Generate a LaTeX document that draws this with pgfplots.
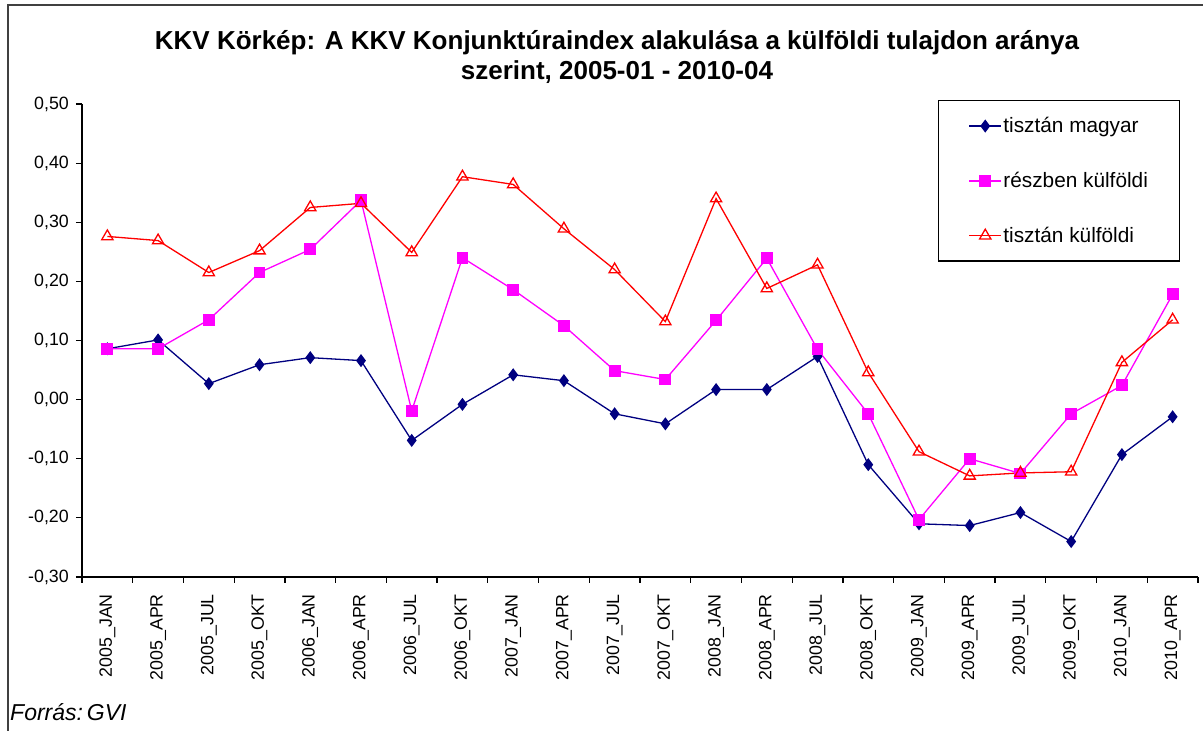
\documentclass[border=0pt]{standalone}
\usepackage{fontspec}
\setmainfont{Liberation Sans}
\usepackage{pgfplots}
\usepackage{pgfplotstable}
\pgfplotsset{compat=1.18}
\definecolor{navy}{RGB}{0,0,128}
\definecolor{mag}{RGB}{255,0,255}
\definecolor{red1}{RGB}{255,0,0}
\pgfplotstableread{
x m r k
0 0.086 0.086 0.276
1 0.101 0.086 0.269
2 0.027 0.135 0.215
3 0.059 0.215 0.252
4 0.071 0.254 0.325
5 0.066 0.337 0.332
6 -0.069 -0.019 0.249
7 -0.008 0.240 0.377
8 0.042 0.186 0.364
9 0.032 0.125 0.289
10 -0.024 0.049 0.220
11 -0.041 0.034 0.132
12 0.017 0.134 0.340
13 0.017 0.239 0.188
14 0.073 0.085 0.228
15 -0.110 -0.024 0.046
16 -0.210 -0.203 -0.088
17 -0.213 -0.100 -0.129
18 -0.191 -0.125 -0.124
19 -0.240 -0.024 -0.122
20 -0.093 0.024 0.063
21 -0.029 0.178 0.135
}\data
\begin{document}
\begin{tikzpicture}
\path[use as bounding box] (0pt,0pt) rectangle (1203pt,731pt);
\draw[black!75, line width=1.3pt] (8pt,0pt) -- (8pt,726pt) -- (1203pt,726pt);
\begin{axis}[at={(82pt,154pt)}, anchor=south west, scale only axis,
  width=1116pt, height=473pt,
  xmin=-0.5, xmax=21.5, ymin=-0.3, ymax=0.5,
  axis lines*=left, axis line style={line width=1.3pt},
  tick style={line width=1.2pt, black},
  xtick align=outside, ytick align=outside, major tick length=6pt,
  xtick={-0.5,0.5,...,21.5}, xticklabels={},
  extra x ticks={0,1,...,21},
  extra x tick labels={2005\_JAN,2005\_APR,2005\_JUL,2005\_OKT,2006\_JAN,2006\_APR,2006\_JUL,2006\_OKT,2007\_JAN,2007\_APR,2007\_JUL,2007\_OKT,2008\_JAN,2008\_APR,2008\_JUL,2008\_OKT,2009\_JAN,2009\_APR,2009\_JUL,2009\_OKT,2010\_JAN,2010\_APR},
  extra x tick style={major tick length=0pt,
    xticklabel style={rotate=90, anchor=east, xshift=-17pt, inner sep=0pt}},
  ytick={-0.3,-0.2,-0.1,0,0.1,0.2,0.3,0.4,0.5},
  yticklabels={{-0,30},{-0,20},{-0,10},{0,00},{0,10},{0,20},{0,30},{0,40},{0,50}},
  yticklabel style={inner sep=0pt, xshift=-7pt},
  ticklabel style={font=\fontsize{17.8}{20}\selectfont},
  legend style={at={(axis description cs:0.767,1.0085)}, anchor=north west,
    draw=black, line width=1.3pt, inner xsep=30pt, inner ysep=15pt,
    font=\fontsize{20.8}{24}\selectfont, row sep=34pt,
    legend cell align=left, nodes={inner xsep=1.5pt, inner ysep=2pt}},
  legend image code/.code={\draw[mark repeat=2,mark phase=2,#1] plot coordinates {(0pt,0pt)(16pt,0pt)(32pt,0pt)};},
]
\addplot[navy, line width=1.3pt, mark=diamond*, mark size=5.5pt, mark options={fill=navy}] table[x=x,y=m]{\data};
\addlegendentry{tisztán magyar}
\addplot[mag, line width=1.3pt, mark=square*, mark size=5.3pt, mark options={fill=mag}] table[x=x,y=r]{\data};
\addlegendentry{részben külföldi}
\addplot[red1, line width=1.3pt, mark=triangle, mark size=6.5pt, mark options={fill=white, line width=1.3pt}] table[x=x,y=k]{\data};
\addlegendentry{tisztán külföldi}
\end{axis}
\node[align=center, font=\fontsize{26}{30}\selectfont\bfseries] at (617pt,674pt) {KKV Körkép: A KKV Konjunktúraindex alakulása a külföldi tulajdon aránya\\szerint, 2005-01 - 2010-04};
\node[anchor=west, inner sep=0pt, font=\fontsize{23}{26}\selectfont\itshape] at (10pt,19pt) {Forrás:\,GVI};
\end{tikzpicture}
\end{document}
